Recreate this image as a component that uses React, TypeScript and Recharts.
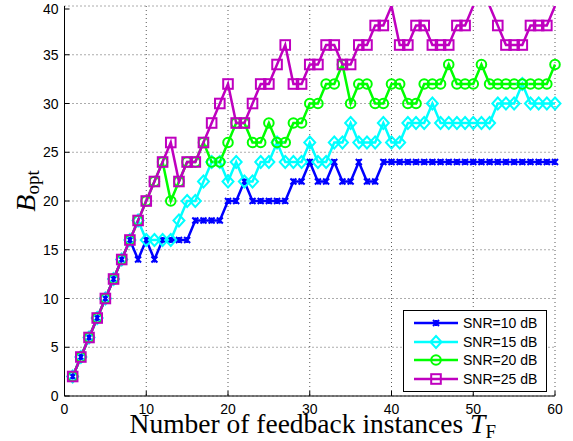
import React from 'react';
import { LineChart, Line, XAxis, YAxis, CartesianGrid, Legend } from 'recharts';

const instances = [
  1, 2, 3, 4, 5, 6, 7, 8, 9, 10, 11, 12, 13, 14, 15, 16, 17, 18, 19, 20,
  21, 22, 23, 24, 25, 26, 27, 28, 29, 30, 31, 32, 33, 34, 35, 36, 37, 38, 39, 40,
  41, 42, 43, 44, 45, 46, 47, 48, 49, 50, 51, 52, 53, 54, 55, 56, 57, 58, 59, 60,
];

const snr10 = [
  2, 4, 6, 8, 10, 12, 14, 16, 14, 16, 14, 16, 16, 16, 16, 18, 18, 18, 18, 20,
  20, 22, 20, 20, 20, 20, 20, 22, 22, 24, 22, 22, 24, 22, 22, 24, 22, 22, 24, 24,
  24, 24, 24, 24, 24, 24, 24, 24, 24, 24, 24, 24, 24, 24, 24, 24, 24, 24, 24, 24,
];
const snr15 = [
  2, 4, 6, 8, 10, 12, 14, 16, 18, 16, 16, 16, 16, 18, 20, 20, 22, 24, 24, 22,
  24, 22, 22, 24, 24, 26, 24, 24, 24, 26, 24, 24, 26, 26, 28, 26, 26, 26, 28, 26,
  26, 28, 28, 28, 30, 28, 28, 28, 28, 28, 28, 28, 30, 30, 30, 32, 30, 30, 30, 30,
];
const snr20 = [
  2, 4, 6, 8, 10, 12, 14, 16, 18, 20, 22, 24, 20, 22, 24, 24, 26, 24, 24, 26,
  28, 28, 26, 26, 28, 26, 26, 28, 28, 30, 30, 32, 32, 34, 30, 32, 32, 30, 30, 32,
  32, 30, 30, 32, 32, 32, 34, 32, 32, 32, 34, 32, 32, 32, 32, 32, 32, 32, 32, 34,
];
const snr25 = [
  2, 4, 6, 8, 10, 12, 14, 16, 18, 20, 22, 24, 26, 22, 24, 24, 26, 28, 30, 32,
  28, 28, 30, 32, 32, 34, 36, 32, 32, 34, 34, 36, 36, 34, 34, 36, 36, 38, 38, 40,
  36, 36, 38, 38, 36, 36, 36, 38, 38, 40, 42, 40, 38, 36, 36, 36, 38, 38, 38, 40,
];

const seriesNames = ['SNR=10 dB', 'SNR=15 dB', 'SNR=20 dB', 'SNR=25 dB'];
const xTicks = [0, 10, 20, 30, 40, 50, 60];
const yTicks = [0, 5, 10, 15, 20, 25, 30, 35, 40];

const data = instances.map((t, i) => ({
  t,
  s10: snr10[i],
  s15: snr15[i],
  s20: snr20[i],
  s25: snr25[i],
}));

const series = [
  { key: 's10', name: seriesNames[0], color: '#0000ff', marker: 'x' },
  { key: 's15', name: seriesNames[1], color: '#00ffff', marker: 'diamond' },
  { key: 's20', name: seriesNames[2], color: '#00ff00', marker: 'circle' },
  { key: 's25', name: seriesNames[3], color: '#bf00bf', marker: 'square' },
];

const sans = '"Liberation Sans", Arial, Helvetica, sans-serif';
const serif = '"Liberation Serif", "Times New Roman", serif';

function markerShape(marker: string, cx: number, cy: number, color: string) {
  if (marker === 'x') {
    return (
      <path
        d={`M${cx - 3},${cy - 3}L${cx + 3},${cy + 3}M${cx - 3},${cy + 3}L${cx + 3},${cy - 3}M${cx},${cy - 3}L${cx},${cy + 3}`}
        stroke={color} strokeWidth={2} fill="none"
      />
    );
  }
  if (marker === 'diamond') {
    return (
      <path
        d={`M${cx},${cy - 6}L${cx + 5.5},${cy}L${cx},${cy + 6}L${cx - 5.5},${cy}Z`}
        stroke={color} strokeWidth={2} fill="none"
      />
    );
  }
  if (marker === 'circle') {
    return <circle cx={cx} cy={cy} r={4.8} stroke={color} strokeWidth={2} fill="none" />;
  }
  return <rect x={cx - 4.8} y={cy - 4.8} width={9.6} height={9.6} stroke={color} strokeWidth={2} fill="none" />;
}

// markers sitting on or above the top limit are clipped away, as in the original
const renderDot = (s: any) => (props: any) => {
  const { cx, cy, value, index } = props;
  if (cx == null || cy == null || value >= 40) return <g key={`${s.key}-${index}`} />;
  return <g key={`${s.key}-${index}`}>{markerShape(s.marker, cx, cy, s.color)}</g>;
};

const BottomTick = (props: any) => {
  const { x, y, payload } = props;
  return (
    <g>
      <line x1={x} y1={y} x2={x} y2={y - 5} stroke="#000" />
      <text x={x} y={y + 18} textAnchor="middle" fontFamily={sans} fontSize={14} fill="#000">
        {payload.value}
      </text>
    </g>
  );
};

const TopTick = (props: any) => {
  const { x, y } = props;
  return <line x1={x} y1={y} x2={x} y2={y + 5} stroke="#000" />;
};

const LeftTick = (props: any) => {
  const { x, y, payload } = props;
  return (
    <g>
      <line x1={x} y1={y} x2={x + 5} y2={y} stroke="#000" />
      <text x={x - 6} y={y + 5} textAnchor="end" fontFamily={sans} fontSize={14} fill="#000">
        {payload.value}
      </text>
    </g>
  );
};

const RightTick = (props: any) => {
  const { x, y } = props;
  return <line x1={x} y1={y} x2={x - 5} y2={y} stroke="#000" />;
};

const XLabel = (props: any) => {
  const vb = props.viewBox;
  return (
    <text x={vb.x + vb.width / 2 + 3} y={vb.y + 37} textAnchor="middle" fontFamily={serif} fontSize={27.5} fill="#000">
      Number of feedback instances{' '}
      <tspan fontStyle="italic">T</tspan>
      <tspan fontSize={19} dy={5}>F</tspan>
    </text>
  );
};

const YLabel = (props: any) => {
  const vb = props.viewBox;
  const cx = vb.x + 35;
  const cy = vb.y + vb.height / 2 - 10;
  return (
    <text x={cx} y={cy} transform={`rotate(-90, ${cx}, ${cy})`} textAnchor="middle" fontFamily={serif} fontSize={28} fill="#000">
      <tspan fontStyle="italic">B</tspan>
      <tspan fontSize={19} dy={4}>opt</tspan>
    </text>
  );
};

const LegendBox = () => (
  <div
    style={{
      border: '1px solid #000',
      background: '#fff',
      padding: '3px 8px 3px 8px',
      width: 126,
    }}
  >
    {series.map((s) => (
      <div key={s.key} style={{ display: 'flex', alignItems: 'center', height: 18.5 }}>
        <svg width={48} height={16} style={{ display: 'block' }}>
          <line x1={2} y1={8} x2={46} y2={8} stroke={s.color} strokeWidth={2.5} />
          {markerShape(s.marker, 24, 8, s.color)}
        </svg>
        <span style={{ fontFamily: sans, fontSize: 14, color: '#000', marginLeft: 3, whiteSpace: 'nowrap' }}>
          {s.name}
        </span>
      </div>
    ))}
  </div>
);

export default function App() {
  return (
    <div style={{ position: 'absolute', left: 0, top: 0, width: 573, height: 441, background: '#fff' }}>
      <LineChart width={573} height={441} data={data} margin={{ top: 6, right: 18, left: 0, bottom: 0 }}>
        <CartesianGrid stroke="#000" strokeOpacity={0.65} strokeDasharray="1 3" />
        <XAxis
          dataKey="t"
          type="number"
          domain={[0, 60]}
          ticks={xTicks}
          height={45}
          tickSize={0}
          tickMargin={0}
          tickLine={false}
          axisLine={{ stroke: '#000' }}
          tick={<BottomTick />}
          label={{ content: <XLabel /> }}
        />
        <XAxis
          xAxisId="top"
          dataKey="t"
          orientation="top"
          type="number"
          domain={[0, 60]}
          ticks={xTicks}
          height={0}
          tickSize={0}
          tickMargin={0}
          tickLine={false}
          axisLine={{ stroke: '#000' }}
          tick={<TopTick />}
        />
        <YAxis
          type="number"
          domain={[0, 40]}
          ticks={yTicks}
          allowDataOverflow
          width={64.5}
          tickSize={0}
          tickMargin={0}
          tickLine={false}
          axisLine={{ stroke: '#000' }}
          tick={<LeftTick />}
          label={{ content: <YLabel /> }}
        />
        <YAxis
          yAxisId="right"
          orientation="right"
          type="number"
          domain={[0, 40]}
          ticks={yTicks}
          width={0}
          tickSize={0}
          tickMargin={0}
          tickLine={false}
          axisLine={{ stroke: '#000' }}
          tick={<RightTick />}
        />
        {series.map((s) => (
          <Line
            key={s.key}
            type="linear"
            dataKey={s.key}
            name={s.name}
            stroke={s.color}
            strokeWidth={2.5}
            dot={renderDot(s)}
            activeDot={false}
            isAnimationActive={false}
          />
        ))}
        <Legend
          layout="vertical"
          align="center"
          verticalAlign="middle"
          content={<LegendBox />}
          wrapperStyle={{ left: 403, top: 310, width: 146 }}
        />
      </LineChart>
    </div>
  );
}
